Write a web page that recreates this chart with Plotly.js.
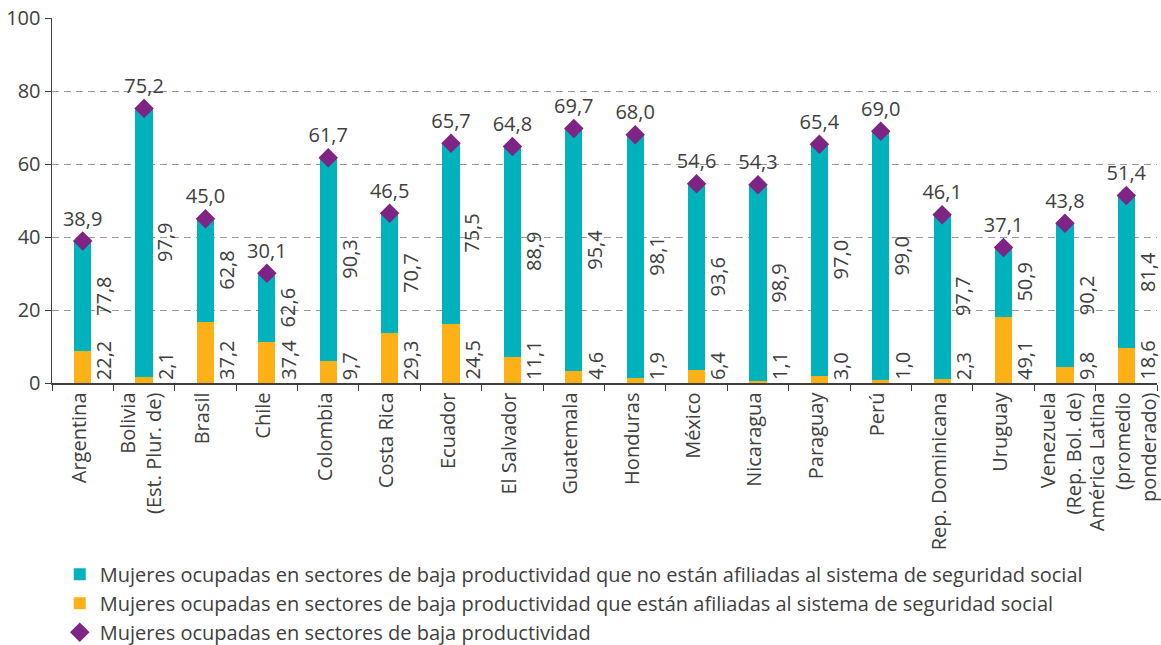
<!DOCTYPE html>
<html>
<head>
<meta charset="utf-8">
<script src="https://cdn.plot.ly/plotly-3.0.1.min.js"></script>
<style>html,body{margin:0;padding:0;background:#fff;}#chart{width:1161px;height:645px;}</style>
</head>
<body>
<div id="chart"></div>
<script>
// ---- data ----
const categories = ['Argentina','Bolivia','Brasil','Chile','Colombia','Costa Rica','Ecuador','El Salvador','Guatemala','Honduras','México','Nicaragua','Paraguay','Perú','Rep. Dominicana','Uruguay','Venezuela','América Latina'];
const tickLabels = ['Argentina','Bolivia<br>(Est. Plur. de)','Brasil','Chile','Colombia','Costa Rica','Ecuador','El Salvador','Guatemala','Honduras','México','Nicaragua','Paraguay','Perú','Rep. Dominicana','Uruguay','Venezuela<br>(Rep. Bol. de)','América Latina<br>(promedio<br>ponderado)'];
// total share of women employed in low-productivity sectors (%)
const totals = [38.9,75.2,45.0,30.1,61.7,46.5,65.7,64.8,69.7,68.0,54.6,54.3,65.4,69.0,46.1,37.1,43.8,51.4];
// of which: not affiliated to social security (%)
const notAffiliatedPct = [77.8,97.9,62.8,62.6,90.3,70.7,75.5,88.9,95.4,98.1,93.6,98.9,97.0,99.0,97.7,50.9,90.2,81.4];
// of which: affiliated to social security (%)
const affiliatedPct = [22.2,2.1,37.2,37.4,9.7,29.3,24.5,11.1,4.6,1.9,6.4,1.1,3.0,1.0,2.3,49.1,9.8,18.6];
const yTicks = [0,20,40,60,80,100];

const seriesNames = [
  'Mujeres ocupadas en sectores de baja productividad que no están afiliadas al sistema de seguridad social',
  'Mujeres ocupadas en sectores de baja productividad que están afiliadas al sistema de seguridad social',
  'Mujeres ocupadas en sectores de baja productividad'
];

// ---- derived segment heights ----
const affSeg = totals.map((t,i) => t * affiliatedPct[i] / 100);
const nonAffSeg = totals.map((t,i) => t * notAffiliatedPct[i] / 100);
const fmt = v => v.toFixed(1).replace('.', ',');

const TEAL = '#00B2BB', ORANGE = '#FDB116', PURPLE = '#7E2484', TXT = '#404040';
const FONT = 'Open Sans, Noto Sans, sans-serif';
const FS = 20;

const traces = [
  {type:'bar', x:categories, y:affSeg, name:seriesNames[1], marker:{color:ORANGE}, legendrank:2, legendgroup:'b', hoverinfo:'skip'},
  {type:'bar', x:categories, y:nonAffSeg, name:seriesNames[0], marker:{color:TEAL}, legendrank:1, legendgroup:'a', hoverinfo:'skip'},
  {type:'scatter', mode:'markers+text', x:categories, y:totals, name:seriesNames[2],
   text: totals.map(fmt), textposition:'top center', textfont:{size:FS, color:TXT, family:FONT},
   marker:{symbol:'diamond', size:15, color:PURPLE}, legendrank:3, legendgroup:'c', hoverinfo:'skip', cliponaxis:false}
];

const annotations = [];
categories.forEach((c,i) => {
  annotations.push({x:c, y:0, xref:'x', yref:'y', text:fmt(affiliatedPct[i]), showarrow:false,
    textangle:-90, xanchor:'center', yanchor:'bottom', xshift:21, yshift:2, borderpad:0,
    font:{size:FS, color:TXT, family:FONT}});
  annotations.push({x:c, y:affSeg[i] + nonAffSeg[i]/2, xref:'x', yref:'y', text:fmt(notAffiliatedPct[i]), showarrow:false,
    textangle:-90, xanchor:'center', yanchor:'middle', xshift:21, borderpad:0,
    font:{size:FS, color:TXT, family:FONT}});
});

const layout = {
  width:1161, height:645,
  margin:{l:52, r:4, t:18, b:262, autoexpand:false},
  paper_bgcolor:'#fff', plot_bgcolor:'#fff',
  font:{family:FONT, color:TXT, size:FS},
  barmode:'stack', bargap:0.72,
  showlegend:true,
  legend:{orientation:'v', x:0.007, xanchor:'left', yref:'container', y:0.14, yanchor:'top',
    font:{size:FS, color:TXT, family:FONT}, tracegroupgap:0, itemsizing:'trace', bgcolor:'rgba(0,0,0,0)'},
  xaxis:{type:'category', range:[-0.5, categories.length-0.5], tickvals:categories, ticktext:tickLabels, tickangle:-90,
    automargin:false, ticklabelshift:-3,
    showline:true, linecolor:'#404040', linewidth:1.5, ticks:'outside', ticklen:6, tickcolor:'#404040',
    tickson:'boundaries', showgrid:false, zeroline:false, tickfont:{size:FS, color:TXT, family:FONT}},
  yaxis:{range:[0,100], tickvals:yTicks, automargin:false, showline:true, linecolor:'#404040', linewidth:1.5,
    ticks:'outside', ticklen:6, tickcolor:'#404040', showgrid:true, gridcolor:'#9a9a9a', griddash:'7px,5px', gridwidth:1,
    zeroline:false, tickfont:{size:FS, color:TXT, family:FONT}, fixedrange:true},
  annotations: annotations
};

Plotly.newPlot('chart', traces, layout, {staticPlot:true, displayModeBar:false});
</script>
</body>
</html>
